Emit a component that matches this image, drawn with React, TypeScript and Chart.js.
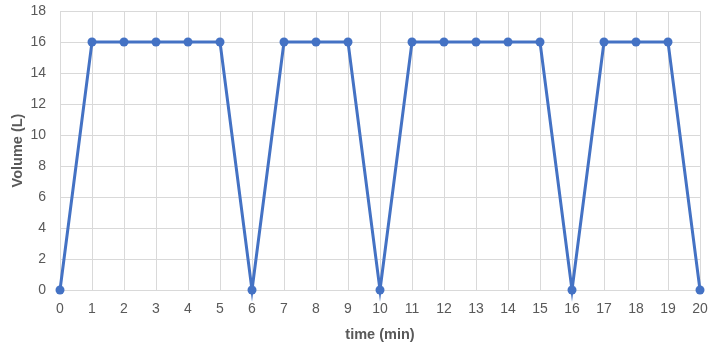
import React, { useEffect, useRef } from "react";
import { Chart, registerables } from "chart.js";

Chart.register(...registerables);

const times = [0, 1, 2, 3, 4, 5, 6, 7, 8, 9, 10, 11, 12, 13, 14, 15, 16, 17, 18, 19, 20];
const volumes = [0, 16, 16, 16, 16, 16, 0, 16, 16, 16, 0, 16, 16, 16, 16, 16, 0, 16, 16, 16, 0];
const xTitle = "time (min)";
const yTitle = "Volume (L)";

export default function App() {
  const ref = useRef<HTMLCanvasElement | null>(null);
  useEffect(() => {
    document.body.style.margin = "0";
    const ctx = ref.current!;
    const font = { family: "'Liberation Sans', 'Open Sans', sans-serif", size: 14 };
    const titleFont = { family: "'Liberation Sans', 'Open Sans', sans-serif", size: 14.5, weight: "bold" as const };
    const chart = new Chart(ctx, {
      type: "line",
      data: {
        datasets: [
          {
            data: times.map((t, i) => ({ x: t, y: volumes[i] })),
            borderColor: "#4472C4",
            backgroundColor: "#4472C4",
            borderWidth: 3,
            pointRadius: 4.5,
            pointHoverRadius: 4.5,
            pointBorderWidth: 0,
            tension: 0,
            clip: false,
          },
        ],
      },
      options: {
        animation: false,
        responsive: false,
        layout: { padding: { top: 11, right: 17, left: 0, bottom: 7 } },
        plugins: { legend: { display: false }, tooltip: { enabled: false } },
        scales: {
          x: {
            type: "linear",
            min: 0,
            max: 20,
            ticks: { stepSize: 1, color: "#595959", font, padding: 11, maxRotation: 0 },
            grid: { color: "#d9d9d9", drawTicks: false, lineWidth: 1 },
            border: { color: "#d9d9d9" },
            title: {
              display: true,
              text: xTitle,
              color: "#595959",
              font: titleFont,
              padding: { top: 0, bottom: 0 },
            },
            afterFit: (s: any) => {
              s.height = 54;
              s.paddingLeft = 0;
              s.paddingRight = 0;
            },
          },
          y: {
            min: 0,
            max: 18,
            ticks: { stepSize: 2, color: "#595959", font, padding: 14 },
            grid: { color: "#d9d9d9", drawTicks: false, lineWidth: 1 },
            border: { color: "#d9d9d9" },
            title: {
              display: true,
              text: yTitle,
              color: "#595959",
              font: titleFont,
              padding: { top: 9, bottom: 0 },
            },
            afterFit: (s: any) => {
              s.width = 60;
              s.paddingTop = 0;
              s.paddingBottom = 0;
            },
          },
        },
      },
    });
    return () => chart.destroy();
  }, []);
  return (
    <div style={{ width: 717, height: 351, background: "#fff" }}>
      <canvas ref={ref} width={717} height={351} style={{ display: "block" }} />
    </div>
  );
}
